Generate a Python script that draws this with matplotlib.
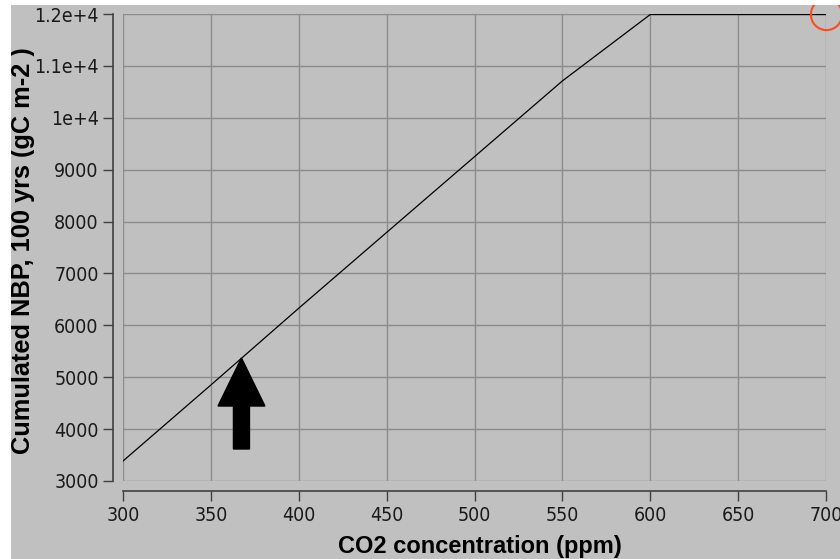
import matplotlib.pyplot as plt
from matplotlib.patches import Rectangle

# %% Data
co2_ppm = [300, 350, 400, 450, 500, 550, 600, 650, 700]
cum_nbp = [3385, 4850, 6330, 7790, 9250, 10710, 11990, 11990, 11990]

x_ticks = [300, 350, 400, 450, 500, 550, 600, 650, 700]
y_ticks = [3000, 4000, 5000, 6000, 7000, 8000, 9000, 10000, 11000, 12000]
y_tick_labels = ['3000', '4000', '5000', '6000', '7000', '8000', '9000',
                 '1e+4', '1.1e+4', '1.2e+4']

arrow_x = 367.4
arrow_from, arrow_to = 3617, 5370

# %% Figure
bg = '#c0c0c0'
fig = plt.figure(figsize=(8.4, 5.59), dpi=100, facecolor=bg)
ax = fig.add_axes([123 / 840, 78 / 559, 703 / 840, 467 / 559], facecolor=bg)
# white margins (top and left) of the screenshot
fig.patches.append(Rectangle((0, 1 - 5 / 559), 1, 5 / 559, transform=fig.transFigure,
                             facecolor='white', edgecolor='none'))
fig.patches.append(Rectangle((0, 0), 11 / 840, 1, transform=fig.transFigure,
                             facecolor='white', edgecolor='none'))

ax.plot(co2_ppm, cum_nbp, color='black', linewidth=0.9, zorder=3)

ax.arrow(arrow_x, arrow_from, 0, arrow_to - arrow_from, width=9.1, head_width=26.7,
         head_length=925, length_includes_head=True, color='black', zorder=4)

ax.plot([700], [12000], marker='o', markersize=22.5, markerfacecolor='none',
        markeredgecolor='#ff4a1c', markeredgewidth=1.5, clip_on=False, zorder=5)

ax.set_xlim(300, 700)
ax.set_ylim(3000, 12000)
ax.set_xticks(x_ticks)
ax.set_yticks(y_ticks)
ax.set_yticklabels(y_tick_labels)

ax.grid(True, color='#8c8c8c', linewidth=1.0)
for gl in ax.get_xgridlines() + ax.get_ygridlines():
    gl.set_clip_on(False)
ax.set_axisbelow(True)

for s in ['top', 'right']:
    ax.spines[s].set_visible(False)
for s in ['left', 'bottom']:
    ax.spines[s].set_position(('outward', 7.5))
    ax.spines[s].set_color('#404040')
    ax.spines[s].set_linewidth(1.2)

ax.tick_params(axis='both', length=7, width=1, color='#404040', labelsize=14,
               labelcolor='#1a1a1a')
ax.tick_params(axis='y', pad=3)
ax.tick_params(axis='x', pad=3.5)
for lbl in ax.get_xticklabels() + ax.get_yticklabels():
    lbl.set_family(['DejaVu Sans', 'Liberation Sans'])
    lbl.set_stretch('condensed')

ax.set_xlabel('CO2 concentration (ppm)', fontsize=17, fontweight='bold',
              family=['Liberation Sans', 'DejaVu Sans'])
ax.set_ylabel('Cumulated NBP, 100 yrs (gC m-2 )', fontsize=18.3, fontweight='bold',
              family=['Liberation Sans', 'DejaVu Sans'])
ax.xaxis.set_label_coords(0.508, -0.115)
ax.yaxis.set_label_coords(-0.1245, 0.4925)

fig.savefig('out.png', dpi=100, facecolor=bg)
